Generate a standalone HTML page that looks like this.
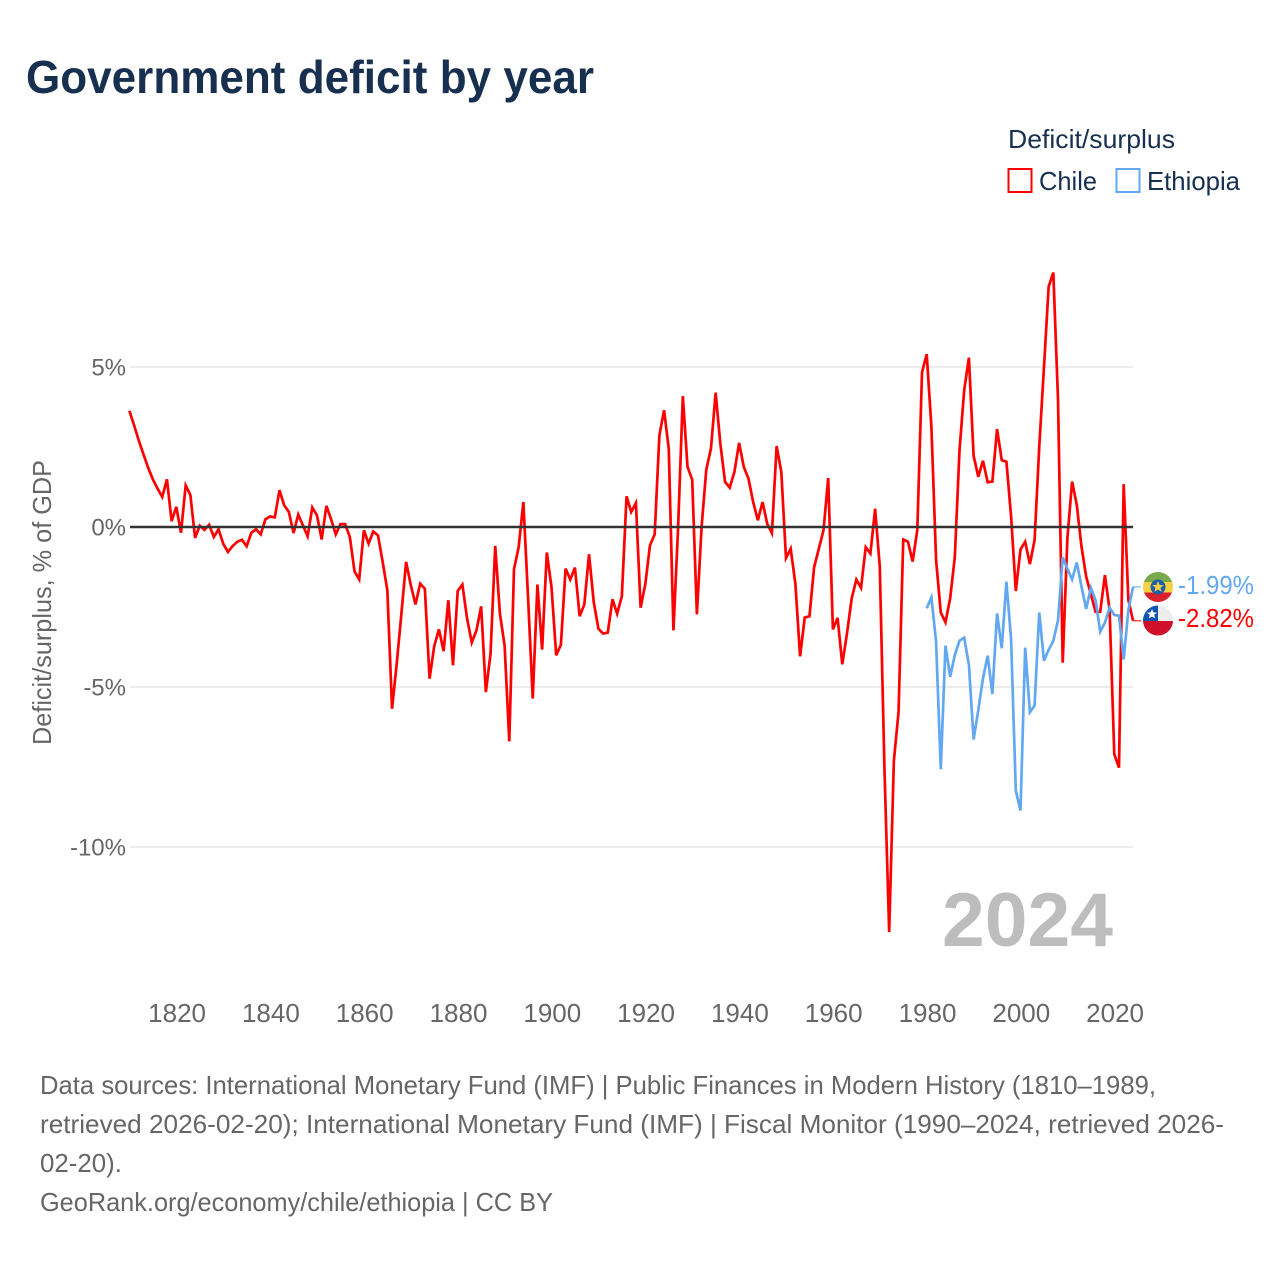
<!DOCTYPE html>
<html lang="en">
<head>
<meta charset="utf-8">
<title>Government deficit by year</title>
<style>
html,body{margin:0;padding:0;background:#fff}
svg{display:block}
text{font-family:"Liberation Sans",sans-serif}
</style>
</head>
<body>
<svg id="chart" xmlns="http://www.w3.org/2000/svg" width="1280" height="1280" viewBox="0 0 1280 1280">
<rect width="1280" height="1280" fill="#fff"/>
<text x="26" y="93" font-size="46" font-weight="700" fill="#17304f" textLength="568" lengthAdjust="spacingAndGlyphs">Government deficit by year</text>

<g>
<text x="1008" y="148" font-size="26" fill="#17304f" textLength="167" lengthAdjust="spacingAndGlyphs">Deficit/surplus</text>
<rect x="1008.5" y="169" width="23" height="23" fill="none" stroke="#ff0000" stroke-width="2"/>
<text x="1039" y="190" font-size="26" fill="#17304f" textLength="58" lengthAdjust="spacingAndGlyphs">Chile</text>
<rect x="1116.5" y="169" width="23" height="23" fill="none" stroke="#62a8f0" stroke-width="2"/>
<text x="1147" y="190" font-size="26" fill="#17304f" textLength="93" lengthAdjust="spacingAndGlyphs">Ethiopia</text>
</g>

<text transform="translate(51,745) rotate(-90)" font-size="26" fill="#666" textLength="285" lengthAdjust="spacingAndGlyphs">Deficit/surplus, % of GDP</text>

<g id="grid"></g>
<g id="yticks"></g>
<g id="xticks"></g>
<g id="series"></g>

<text x="942" y="946" font-size="76" font-weight="700" fill="#bdbdbd" textLength="171" lengthAdjust="spacingAndGlyphs">2024</text>

<defs>
<clipPath id="clip-eth"><circle cx="1158" cy="587" r="15"/></clipPath>
<clipPath id="clip-chl"><circle cx="1158" cy="620.5" r="15"/></clipPath>
</defs>
<g clip-path="url(#clip-eth)">
<rect x="1143" y="572" width="30" height="10" fill="#78a94a"/>
<rect x="1143" y="582" width="30" height="10.5" fill="#f5d142"/>
<rect x="1143" y="592.5" width="30" height="10" fill="#d9202c"/>
<circle cx="1158" cy="587" r="7.5" fill="#1f5fa8"/>
<polygon points="1158,581 1159.6,585 1163.7,585.2 1160.5,587.8 1161.6,591.8 1158,589.5 1154.4,591.8 1155.5,587.8 1152.3,585.2 1156.4,585" fill="#f5d142"/>
</g>
<g clip-path="url(#clip-chl)">
<rect x="1143" y="605" width="30" height="16" fill="#eeeeee"/>
<rect x="1143" y="605" width="15" height="16" fill="#0f54b0"/>
<rect x="1143" y="621" width="30" height="15" fill="#d0102a"/>
<polygon points="1152,609 1153.4,612.4 1157,612.6 1154.2,614.9 1155.1,618.4 1152,616.5 1148.9,618.4 1149.8,614.9 1147,612.6 1150.6,612.4" fill="#fff"/>
</g>
<text x="1178" y="594" font-size="26" fill="#62a8f0" textLength="76" lengthAdjust="spacingAndGlyphs">-1.99%</text>
<text x="1178" y="627" font-size="26" fill="#ff0000" textLength="76" lengthAdjust="spacingAndGlyphs">-2.82%</text>

<g font-size="26" fill="#666">
<text x="40" y="1094" textLength="1116" lengthAdjust="spacingAndGlyphs">Data sources: International Monetary Fund (IMF) | Public Finances in Modern History (1810–1989,</text>
<text x="40" y="1133" textLength="1184" lengthAdjust="spacingAndGlyphs">retrieved 2026-02-20); International Monetary Fund (IMF) | Fiscal Monitor (1990–2024, retrieved 2026-</text>
<text x="40" y="1172" textLength="82" lengthAdjust="spacingAndGlyphs">02-20).</text>
<text x="40" y="1211" textLength="513" lengthAdjust="spacingAndGlyphs">GeoRank.org/economy/chile/ethiopia | CC BY</text>
</g>
</svg>
<script>
const chileStartYear = 1810;
const chileValues = [
3.63,3.18,2.7,2.27,1.85,1.49,1.2,0.94,1.49,0.18,
0.63,-0.18,1.3,1.0,-0.34,0.04,-0.09,0.07,-0.31,-0.07,
-0.52,-0.78,-0.6,-0.46,-0.4,-0.6,-0.18,-0.07,-0.23,0.24,
0.33,0.3,1.15,0.68,0.47,-0.19,0.39,0.05,-0.29,0.61,
0.36,-0.39,0.66,0.24,-0.23,0.09,0.09,-0.31,-1.39,-1.64,
-0.1,-0.52,-0.14,-0.26,-1.09,-1.98,-5.68,-4.27,-2.7,-1.09,
-1.82,-2.42,-1.77,-1.93,-4.74,-3.72,-3.2,-3.88,-2.29,-4.32,
-2.0,-1.8,-2.86,-3.61,-3.23,-2.48,-5.16,-3.96,-0.59,-2.71,
-3.7,-6.7,-1.32,-0.63,0.78,-2.2,-5.36,-1.8,-3.83,-0.8,
-1.88,-4.01,-3.68,-1.3,-1.64,-1.27,-2.79,-2.42,-0.85,-2.34,
-3.18,-3.33,-3.3,-2.26,-2.71,-2.16,0.96,0.47,0.75,-2.52,
-1.79,-0.57,-0.23,2.86,3.65,2.45,-3.23,0.0,4.09,1.88,
1.48,-2.73,0.0,1.79,2.45,4.2,2.6,1.41,1.23,1.72,
2.63,1.88,1.51,0.78,0.21,0.78,0.1,-0.19,2.53,1.72,
-0.97,-0.68,-1.77,-4.04,-2.83,-2.79,-1.25,-0.68,-0.1,1.53,
-3.2,-2.84,-4.29,-3.33,-2.24,-1.64,-1.9,-0.63,-0.83,0.57,
-1.25,-7.6,-12.66,-7.3,-5.78,-0.39,-0.46,-1.08,-0.09,4.83,
5.4,3.14,-1.03,-2.67,-2.98,-2.23,-0.93,2.41,4.28,5.29,
2.23,1.57,2.07,1.4,1.42,3.06,2.09,2.04,0.32,-2.0,
-0.7,-0.46,-1.16,-0.41,2.51,4.98,7.51,7.95,3.97,-4.24,
-0.35,1.42,0.69,-0.61,-1.55,-2.1,-2.65,-2.65,-1.5,-2.6,
-7.1,-7.52,1.34,-2.28,-2.93
];
const ethiopiaStartYear = 1980;
const ethiopiaValues = [
-2.54,-2.2,-3.58,-7.57,-3.71,-4.68,-4.0,-3.55,-3.46,-4.31,
-6.64,-5.72,-4.73,-4.02,-5.22,-2.7,-3.79,-1.71,-3.53,-8.24,
-8.86,-3.77,-5.79,-5.58,-2.67,-4.18,-3.84,-3.56,-2.91,-0.95,
-1.31,-1.64,-1.11,-1.86,-2.56,-1.9,-2.28,-3.27,-2.99,-2.52,
-2.75,-2.77,-4.14,-2.59,-1.87
];
const xTickYears = [1820,1840,1860,1880,1900,1920,1940,1960,1980,2000,2020];
const yTickValues = [5,0,-5,-10];

const NS = 'http://www.w3.org/2000/svg';
function xScale(year){ return 176.3 + (year - 1820) * 4.69; }
function yScale(v){ return 527 - v * 32; }
function make(tag, attrs, parent){
  const el = document.createElementNS(NS, tag);
  for (const k in attrs) el.setAttribute(k, attrs[k]);
  parent.appendChild(el);
  return el;
}

const grid = document.getElementById('grid');
const yticks = document.getElementById('yticks');
yTickValues.forEach(function(v){
  const y = yScale(v);
  if (v !== 0) {
    const line = make('line', {x1:130, x2:1133, y1:y, y2:y, stroke:'#ececec', 'stroke-width':2}, grid);
    
    
  }
  const t = make('text', {x:126, y:y + 8.5, 'text-anchor':'end', 'font-size':24, fill:'#666'}, yticks);
  t.textContent = v + '%';
  
  
});
const xticks = document.getElementById('xticks');
xTickYears.forEach(function(yr){
  const t = make('text', {x:xScale(yr) + 0.8, y:1022, 'text-anchor':'middle', 'font-size':26, fill:'#666'}, xticks);
  t.textContent = yr;
  
  
});

const seriesGroup = document.getElementById('series');
function drawSeries(values, startYear, color, name){
  const pts = values.map(function(v, i){ return xScale(startYear + i).toFixed(2) + ',' + yScale(v).toFixed(2); });
  const line = make('polyline', {points:pts.join(' '), fill:'none', stroke:color, 'stroke-width':2.7, 'stroke-linejoin':'miter', 'stroke-miterlimit':4}, seriesGroup);
  
  
  const endX = xScale(startYear + values.length - 1);
  const endY = yScale(values[values.length - 1]);
  const lead = make('line', {x1:endX, x2:endX + 8, y1:endY, y2:endY, stroke:color, 'stroke-width':1.5, opacity:0.7}, seriesGroup);
  
  
}

const zeroLine = make('line', {x1:130, x2:1133, y1:yScale(0), y2:yScale(0), stroke:'#333', 'stroke-width':2.6}, seriesGroup);


drawSeries(chileValues, chileStartYear, '#ff0000', 'chile');
drawSeries(ethiopiaValues, ethiopiaStartYear, '#62a8f0', 'ethiopia');
seriesGroup.appendChild(zeroLine);
</script>
</body>
</html>
